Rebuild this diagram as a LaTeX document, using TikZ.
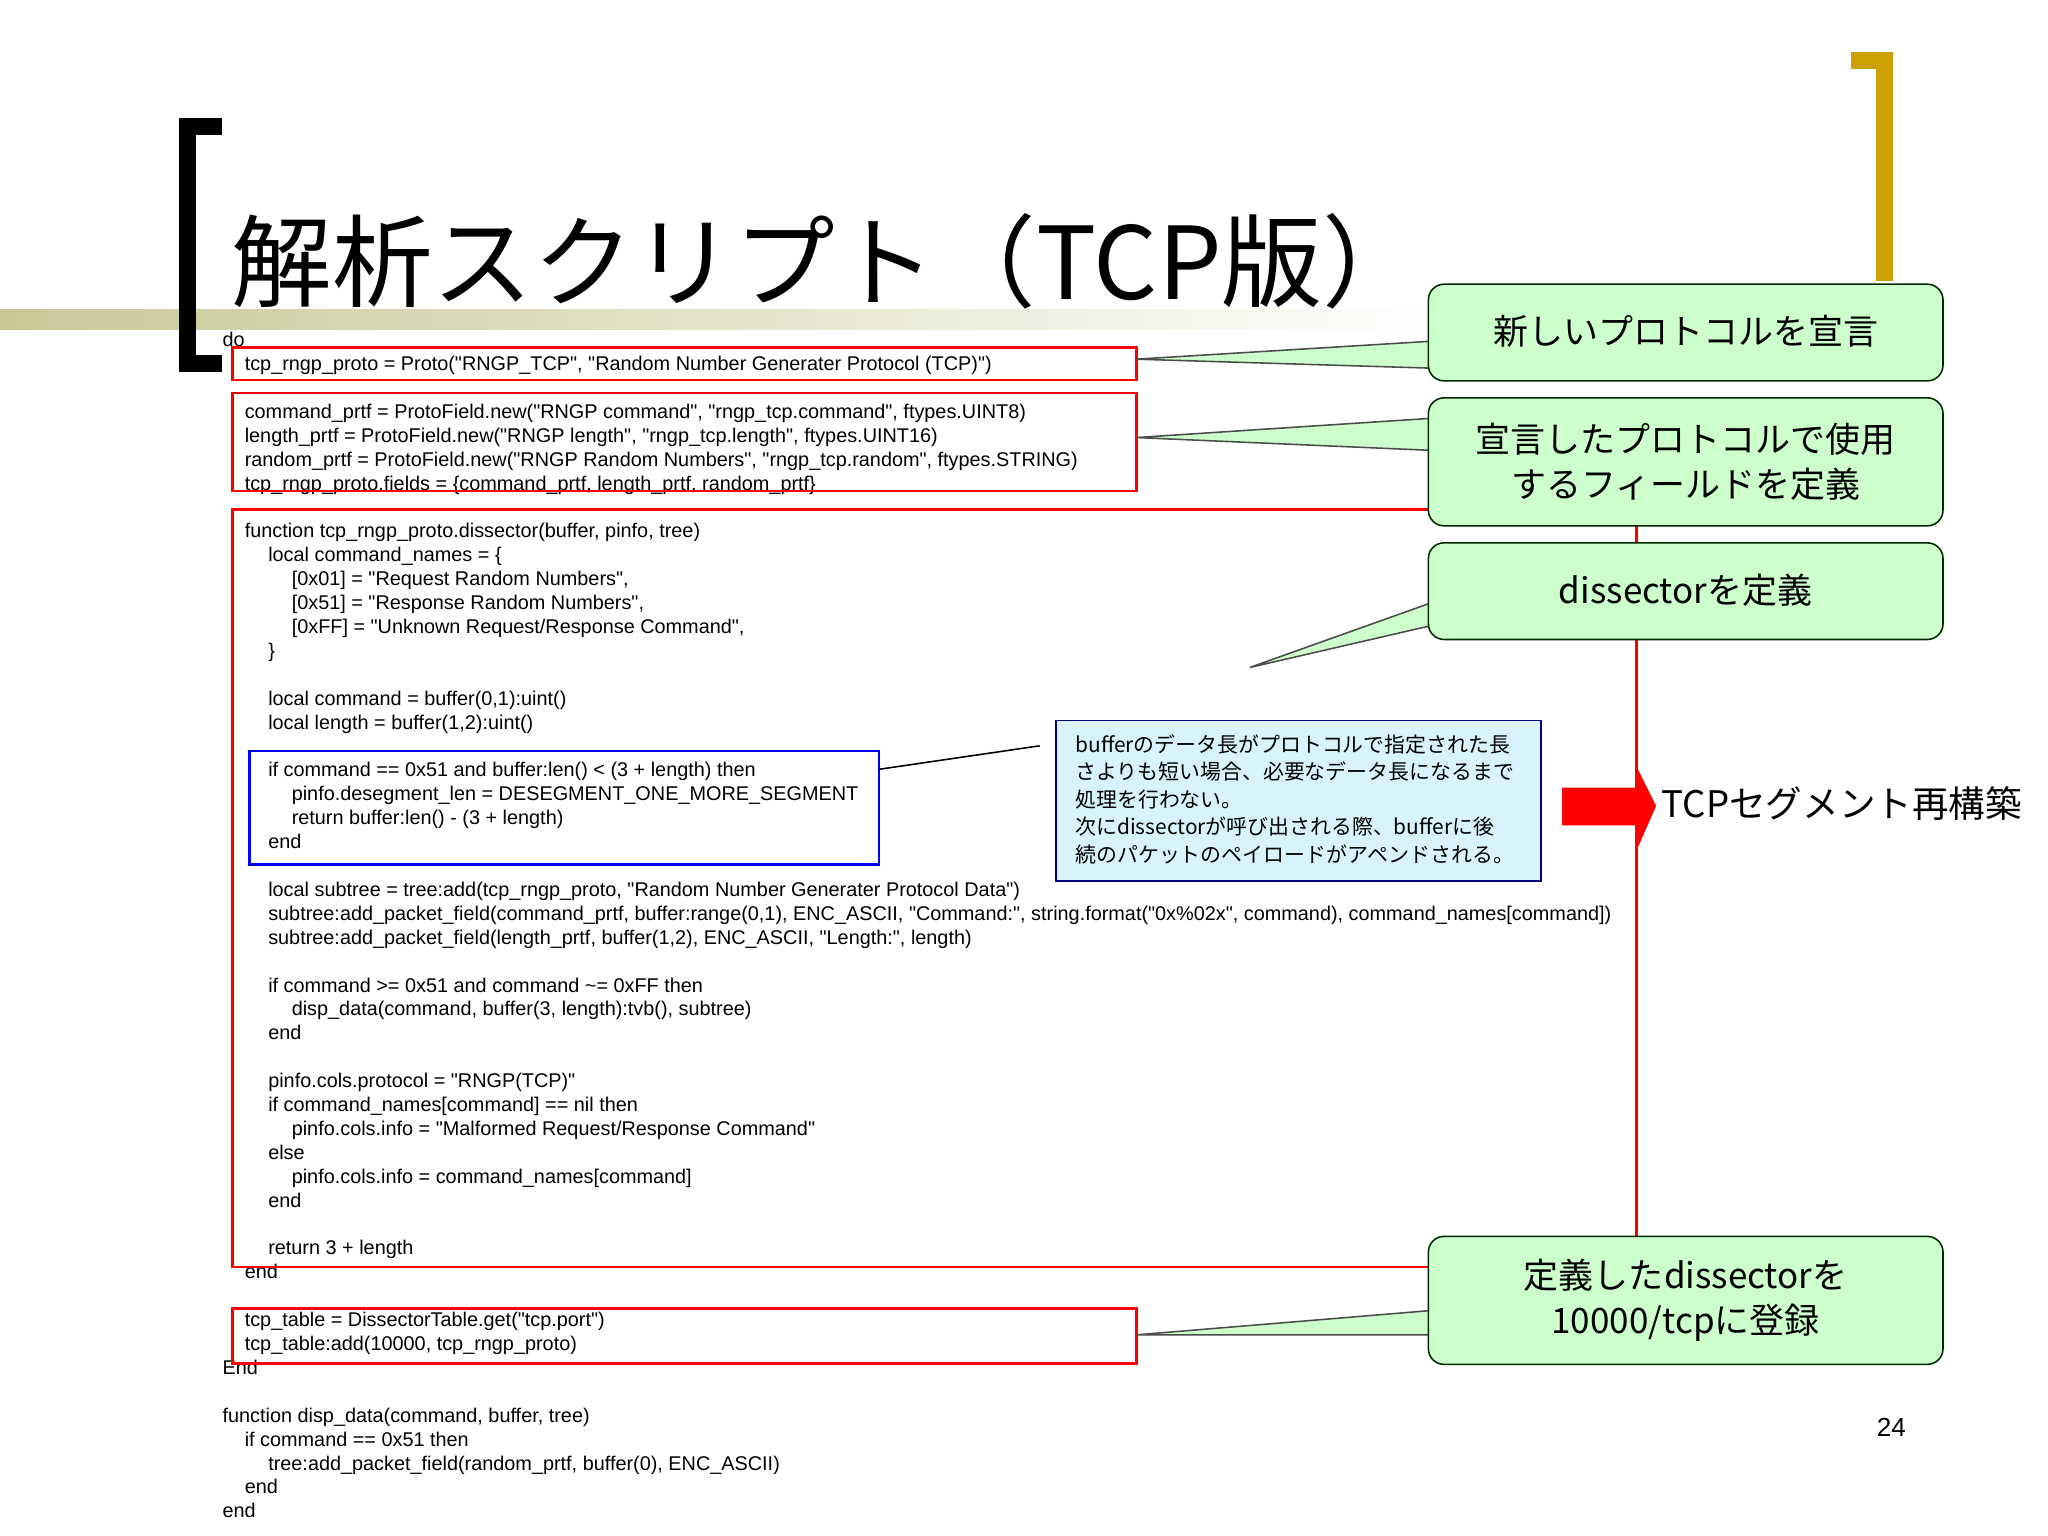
\documentclass[tikz,border=0pt]{standalone}
\usepackage{fontspec}
\setmainfont{Liberation Sans}[Ligatures=TeXOff]
\newfontfamily\cjk{Noto Sans CJK JP}
\newcommand\ia{\hspace*{8.5pt}}
\newcommand\iaa{\hspace*{17.5pt}}
\newcommand\iaaa{\hspace*{26.5pt}}
\definecolor{gold}{RGB}{204,160,0}
\definecolor{olivebar}{RGB}{200,200,150}
\begin{document}
\begin{tikzpicture}[x=0.5pt,y=-0.5pt,
  redbox/.style={draw=red,line width=1pt},
  callout/.style={draw=black!60!green!40!black,fill=green!20,rounded corners=6pt,line width=0.6pt,
     minimum width=197pt,minimum height=37pt,font=\cjk\fontsize{13.4}{17}\selectfont,align=center,inner sep=0pt},
  tail/.style={draw=black!70,fill=green!20,line width=0.6pt}]
\useasboundingbox (0,0) rectangle (1568,1176);
% decorations
\shade[left color=olivebar,right color=white] (0,237) rectangle (1100,252);
\fill[black] (137,90) rectangle (170,103);
\fill[black] (137,90) rectangle (150,285);
\fill[black] (137,272) rectangle (170,285);
\fill[gold] (1417,40) rectangle (1449,53);
\fill[gold] (1436,40) rectangle (1449,215);
\node[anchor=west,inner sep=0pt,font=\cjk\fontsize{38.5}{40}\selectfont] (title) at (177,200) {解析スクリプト（TCP版）};
% code
\node[anchor=north west,inner sep=0pt,align=left,font=\fontsize{7.6}{9.15}\selectfont] (code) at (170,254) {%
do\\
\ia tcp\_rngp\_proto = Proto("RNGP\_TCP", "Random Number Generater Protocol (TCP)")\\
\mbox{}\\
\ia command\_prtf = ProtoField.new("RNGP command", "rngp\_tcp.command", ftypes.UINT8)\\
\ia length\_prtf = ProtoField.new("RNGP length", "rngp\_tcp.length", ftypes.UINT16)\\
\ia random\_prtf = ProtoField.new("RNGP Random Numbers", "rngp\_tcp.random", ftypes.STRING)\\
\ia tcp\_rngp\_proto.fields = \{command\_prtf, length\_prtf, random\_prtf\}\\
\mbox{}\\
\ia function tcp\_rngp\_proto.dissector(buffer, pinfo, tree)\\
\iaa local command\_names = \{\\
\iaaa [0x01] = "Request Random Numbers",\\
\iaaa [0x51] = "Response Random Numbers",\\
\iaaa [0xFF] = "Unknown Request/Response Command",\\
\iaa \}\\
\mbox{}\\
\iaa local command = buffer(0,1):uint()\\
\iaa local length = buffer(1,2):uint()\\
\mbox{}\\
\iaa if command == 0x51 and buffer:len() < (3 + length) then\\
\iaaa pinfo.desegment\_len = DESEGMENT\_ONE\_MORE\_SEGMENT\\
\iaaa return buffer:len() - (3 + length)\\
\iaa end\\
\mbox{}\\
\iaa local subtree = tree:add(tcp\_rngp\_proto, "Random Number Generater Protocol Data")\\
\iaa subtree:add\_packet\_field(command\_prtf, buffer:range(0,1), ENC\_ASCII, "Command:", string.format("0x\%02x", command), command\_names[command])\\
\iaa subtree:add\_packet\_field(length\_prtf, buffer(1,2), ENC\_ASCII, "Length:", length)\\
\mbox{}\\
\iaa if command >= 0x51 and command \textasciitilde= 0xFF then\\
\iaaa disp\_data(command, buffer(3, length):tvb(), subtree)\\
\iaa end\\
\mbox{}\\
\iaa pinfo.cols.protocol = "RNGP(TCP)"\\
\iaa if command\_names[command] == nil then\\
\iaaa pinfo.cols.info = "Malformed Request/Response Command"\\
\iaa else\\
\iaaa pinfo.cols.info = command\_names[command]\\
\iaa end\\
\mbox{}\\
\iaa return 3 + length\\
\ia end\\
\mbox{}\\
\ia tcp\_table = DissectorTable.get("tcp.port")\\
\ia tcp\_table:add(10000, tcp\_rngp\_proto)\\
End\\
\mbox{}\\
function disp\_data(command, buffer, tree)\\
\ia if command == 0x51 then\\
\iaa tree:add\_packet\_field(random\_prtf, buffer(0), ENC\_ASCII)\\
\ia end\\
end};
% red boxes
\draw[redbox] (178,266) rectangle (870,291);
\draw[redbox] (178,301) rectangle (870,376);
\draw[redbox] (178,390) rectangle (1253,970);
\draw[redbox] (178,1002) rectangle (870,1044);
\draw[draw=blue,line width=1pt] (191,575) rectangle (673,662);
% note
\node[draw=blue!50!black,fill=cyan!15,line width=0.6pt,minimum width=185.5pt,minimum height=61.5pt,anchor=north west,inner sep=0pt] (note) at (808,551) {};
\node[anchor=north west,inner sep=0pt,align=left,font=\cjk\fontsize{8}{10.5}\selectfont] (notetext) at (823,562) {bufferのデータ長がプロトコルで指定された長\\さよりも短い場合、必要なデータ長になるまで\\処理を行わない。\\次にdissectorが呼び出される際、bufferに後\\続のパケットのペイロードがアペンドされる。};
\coordinate (nt) at (796,571);
\coordinate (bb) at (673,589);
\draw[black,line width=0.6pt] (bb) -- (nt);
% red arrow
\fill[red] (1196,603) -- (1253,603) -- (1253,587) -- (1268,617) -- (1253,651) -- (1253,632) -- (1196,632) -- cycle;
\node[anchor=west,inner sep=0pt,font=\cjk\fontsize{14}{16}\selectfont] (tcpseg) at (1272,615) {TCPセグメント再構築};
% callouts
\draw[tail] (870,275) -- (1100,261) -- (1100,282) -- cycle;
\draw[tail] (870,335) -- (1100,320) -- (1100,345) -- cycle;
\draw[tail] (957,511) -- (1100,460) -- (1100,478) -- cycle;
\draw[tail] (870,1022) -- (1100,1003) -- (1100,1022) -- cycle;
\node[callout,anchor=north west] (c1) at (1093,217) {\raisebox{2pt}{新しいプロトコルを宣言}};
\node[callout,anchor=north west,minimum height=49pt] (c2) at (1093,304) {宣言したプロトコルで使用\\するフィールドを定義};
\node[callout,anchor=north west] (c3) at (1093,415) {\raisebox{2pt}{dissectorを定義}};
\node[callout,anchor=north west,minimum height=49pt] (c4) at (1093,946) {定義したdissectorを\\10000/tcpに登録};
\node[font=\fontsize{10}{12}\selectfont] (page) at (1448,1093) {24};
\end{tikzpicture}
\end{document}
